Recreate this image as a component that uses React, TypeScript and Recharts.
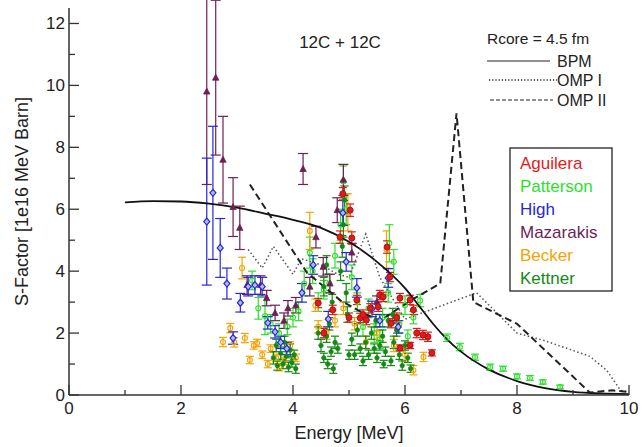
import { ComposedChart, ErrorBar, Line, Scatter, XAxis, YAxis } from "recharts";

const FONT = "'Liberation Sans', Arial, Helvetica, sans-serif";
const INK = "#222";

const xTicks = [0, 1, 2, 3, 4, 5, 6, 7, 8, 9, 10];
const yTicks = [0, 1, 2, 3, 4, 5, 6, 7, 8, 9, 10, 11, 12];

// model curves
const bpmE = [1, 1.5, 2, 2.5, 3, 3.5, 4, 4.5, 5, 5.5, 6, 6.25, 6.5, 6.75, 7, 7.5, 8, 8.5, 9, 9.5, 10];
const bpmS = [6.22, 6.26, 6.25, 6.18, 6.05, 5.86, 5.66, 5.4, 4.95, 4.3, 3.45, 2.88, 2.3, 1.8, 1.4, 0.82, 0.45, 0.22, 0.1, 0.05, 0.03];

const omp1E = [3.2, 3.45, 3.65, 4.0, 4.15, 4.5, 4.8, 5.0, 5.3, 5.55, 6.0, 7.28, 8.0, 8.5, 9.3, 9.6, 9.85, 10];
const omp1S = [4.7, 4.1, 4.8, 3.9, 4.4, 4.2, 3.9, 3.8, 5.2, 3.8, 2.45, 3.3, 2.0, 1.75, 1.25, 0.8, 0.15, 0.1];

const omp2E = [3.23, 4.25, 4.85, 5.25, 5.55, 6.1, 6.63, 6.92, 7.22, 8.0, 9.3, 9.7, 10];
const omp2S = [6.8, 3.95, 3.05, 2.65, 2.4, 3.05, 3.6, 9.1, 3.0, 2.3, 0.08, 0.15, 0.1];

// measurements
const aguileraE = [4.45, 4.71, 4.84, 4.89, 5.02, 5.05, 5.14, 5.2, 5.31, 5.38, 5.52, 5.55, 5.61, 5.68, 5.73, 5.75, 5.85, 5.91, 5.91, 6.09, 6.09, 6.15, 6.21, 6.32, 6.41, 6.48, 4.55, 5.0, 5.25];
const aguileraS = [2.97, 2.75, 5.1, 6.5, 5.97, 5.07, 3.07, 2.49, 2.42, 2.8, 2.85, 3.23, 3.17, 4.78, 3.81, 2.32, 2.5, 3.13, 1.52, 3.07, 1.6, 2.75, 2.0, 1.94, 1.88, 1.36, 2.0, 2.5, 2.6];
const aguileraErr = [0.15, 0.15, 0.2, 0.2, 0.2, 0.2, 0.15, 0.15, 0.15, 0.15, 0.15, 0.15, 0.15, 0.2, 0.15, 0.15, 0.15, 0.15, 0.1, 0.15, 0.1, 0.15, 0.15, 0.15, 0.15, 0.1, 0.15, 0.15, 0.15];

const pattersonE = [3.27, 3.38, 3.5, 3.6, 3.75, 3.9, 4.0, 4.1, 4.2, 4.3, 4.35, 4.45, 4.55, 4.65, 4.75, 4.85, 4.9, 4.95, 5.05, 5.15, 5.25, 5.35, 5.45, 5.55, 5.6, 5.7, 5.72, 5.8, 5.9, 6.0, 6.05, 6.15, 6.27, 6.75, 6.98, 7.25, 7.52, 7.75, 8.0, 8.23, 8.46, 8.77];
const pattersonS = [3.7, 2.8, 2.55, 2.3, 2.0, 2.2, 2.5, 2.7, 3.6, 4.6, 4.0, 3.0, 3.4, 3.6, 4.5, 5.5, 6.9, 6.0, 3.8, 3.0, 2.2, 2.8, 2.0, 1.8, 2.5, 3.3, 4.9, 4.3, 2.3, 2.9, 1.9, 2.5, 3.05, 1.85, 1.55, 1.22, 0.9, 0.85, 0.6, 0.55, 0.42, 0.26];
const pattersonErr = [0.3, 0.35, 0.6, 0.3, 0.3, 0.25, 0.3, 0.3, 0.4, 0.5, 0.4, 0.3, 0.3, 0.3, 0.4, 0.5, 0.5, 0.5, 0.4, 0.3, 0.3, 0.3, 0.3, 0.3, 0.3, 0.3, 0.6, 0.4, 0.3, 0.3, 0.2, 0.2, 0.2, 0.12, 0.12, 0.1, 0.1, 0.08, 0.08, 0.08, 0.07, 0.06];

const highE = [2.46, 2.57, 2.7, 2.82, 2.93, 3.06, 3.2, 3.32, 3.45, 3.55, 3.68, 3.78, 3.89, 4.16, 4.36, 4.63, 4.89, 4.95, 5.14, 5.41, 5.55, 5.7, 5.88];
const highS = [5.6, 6.53, 4.75, 3.6, 1.84, 2.98, 3.5, 3.55, 3.5, 2.33, 2.04, 1.7, 1.5, 3.3, 4.2, 2.45, 5.88, 4.3, 3.46, 2.78, 2.4, 3.78, 2.2];
const highErr = [2.05, 2.15, 0.95, 0.5, 0.2, 0.3, 0.3, 0.3, 0.3, 0.2, 0.2, 0.2, 0.2, 0.3, 0.3, 0.25, 0.4, 0.3, 0.3, 0.25, 0.2, 0.3, 0.2];

const mazarakisE = [2.46, 2.62, 2.75, 2.93, 3.05, 3.18, 3.42, 3.53, 3.68, 3.84, 3.91, 4.05, 4.18, 4.3, 4.41, 4.54, 4.66, 4.79, 4.9, 5.05, 5.5];
const mazarakisS = [9.8, 10.25, 7.6, 6.07, 5.4, 3.55, 3.55, 3.13, 2.65, 2.4, 2.8, 2.9, 7.3, 3.5, 5.1, 4.14, 3.6, 5.97, 6.95, 4.6, 3.0];
const mazarakisErr = [3.0, 2.5, 1.4, 0.95, 0.7, 0.3, 0.3, 0.25, 0.25, 0.25, 0.25, 0.25, 0.5, 0.3, 0.35, 0.3, 0.3, 0.4, 0.5, 0.3, 0.2];

const beckerE = [2.75, 2.88, 2.95, 3.09, 3.14, 3.23, 3.3, 3.36, 3.45, 3.55, 3.6, 3.7, 3.75, 3.85, 3.95, 4.05, 4.3, 4.4, 4.45, 4.6, 4.75, 4.9, 4.98, 5.1, 5.3, 5.5, 5.67, 5.8, 6.0, 6.15, 6.33];
const beckerS = [1.71, 2.16, 1.7, 4.1, 1.84, 1.13, 1.6, 1.68, 1.3, 1.0, 1.5, 1.2, 0.9, 1.1, 1.6, 1.2, 5.3, 2.9, 2.2, 2.0, 2.4, 2.8, 5.9, 2.3, 1.7, 2.0, 4.7, 1.6, 1.3, 0.8, 1.23];
const beckerErr = [0.15, 0.15, 0.15, 0.35, 0.15, 0.12, 0.12, 0.12, 0.12, 0.12, 0.12, 0.12, 0.12, 0.12, 0.12, 0.12, 0.6, 0.2, 0.2, 0.2, 0.2, 0.2, 0.6, 0.2, 0.2, 0.2, 0.6, 0.2, 0.2, 0.15, 0.15];

const kettnerE = [3.65, 3.7, 3.72, 3.78, 3.82, 3.85, 3.88, 3.92, 3.95, 3.98, 4.02, 4.05, 4.45, 4.5, 4.55, 4.6, 4.62, 4.68, 4.72, 4.75, 4.55, 4.6, 4.7, 4.85, 4.88, 4.9, 4.92, 4.95, 4.97, 5.05, 5.1, 5.15, 5.2, 5.25, 5.3, 5.35, 5.4, 5.45, 5.5, 5.6, 5.65, 5.7, 5.75, 5.8, 5.85, 5.9, 5.95, 6.0, 6.05, 6.1, 4.8, 4.65, 5.0, 5.48, 5.55, 5.62, 5.78];
const kettnerS = [1.2, 1.6, 0.95, 1.35, 1.0, 1.7, 1.25, 0.9, 1.45, 1.05, 1.3, 0.85, 2.0, 1.6, 1.2, 1.9, 1.0, 1.4, 0.85, 1.7, 3.5, 4.2, 3.0, 4.0, 4.8, 5.5, 6.3, 3.3, 2.6, 1.8, 1.3, 2.1, 1.5, 1.1, 1.7, 1.3, 2.0, 1.5, 1.2, 1.9, 1.4, 2.4, 1.1, 1.7, 2.1, 1.3, 0.95, 1.6, 1.2, 0.85, 1.5, 2.3, 1.3, 2.4, 1.6, 1.0, 2.6];
const kettnerErr = [0.2, 0.2, 0.15, 0.2, 0.15, 0.2, 0.15, 0.15, 0.2, 0.15, 0.15, 0.15, 0.2, 0.2, 0.15, 0.2, 0.15, 0.15, 0.15, 0.2, 0.3, 0.3, 0.25, 0.3, 0.35, 0.4, 0.45, 0.3, 0.25, 0.2, 0.15, 0.2, 0.15, 0.15, 0.2, 0.15, 0.2, 0.15, 0.15, 0.2, 0.15, 0.2, 0.15, 0.2, 0.2, 0.15, 0.15, 0.15, 0.15, 0.12, 0.15, 0.2, 0.15, 0.2, 0.15, 0.12, 0.2];

const curve = (e: number[], s: number[]) => e.map((x, i) => ({ x, y: s[i] }));
const points = (e: number[], s: number[], err: number[]) => e.map((x, i) => ({ x, y: s[i], err: err[i] }));

const COLORS = {
  aguilera: "#e41a1a",
  patterson: "#2de02d",
  high: "#2626d8",
  mazarakis: "#6e1f55",
  becker: "#f5a300",
  kettner: "#138a13",
};

const datasets = [
  { key: "Patterson", color: COLORS.patterson, data: points(pattersonE, pattersonS, pattersonErr), cap: 4 },
  { key: "Becker", color: COLORS.becker, data: points(beckerE, beckerS, beckerErr), cap: 4 },
  { key: "Kettner", color: COLORS.kettner, data: points(kettnerE, kettnerS, kettnerErr), cap: 4 },
  { key: "Mazarakis", color: COLORS.mazarakis, data: points(mazarakisE, mazarakisS, mazarakisErr), cap: 5 },
  { key: "High", color: COLORS.high, data: points(highE, highS, highErr), cap: 5 },
  { key: "Aguilera", color: COLORS.aguilera, data: points(aguileraE, aguileraS, aguileraErr), cap: 4 },
];

const legendNames = ["Aguilera", "Patterson", "High", "Mazarakis", "Becker", "Kettner"];
const legendColors = [COLORS.aguilera, COLORS.patterson, COLORS.high, COLORS.mazarakis, COLORS.becker, COLORS.kettner];

function marker(name: string, color: string) {
  return (p: any) => {
    const { cx, cy } = p;
    if (cx == null || cy == null) return <g />;
    if (name === "High")
      return <path d={`M${cx},${cy - 3.5}L${cx + 3},${cy}L${cx},${cy + 3.5}L${cx - 3},${cy}Z`} fill="#b8b8f0" stroke={color} strokeWidth={1.2} />;
    if (name === "Mazarakis")
      return <path d={`M${cx},${cy - 3.5}L${cx + 3.2},${cy + 2.5}L${cx - 3.2},${cy + 2.5}Z`} fill={color} stroke={color} strokeWidth={0.8} />;
    if (name === "Aguilera") return <circle cx={cx} cy={cy} r={3} fill={color} stroke="#b01010" strokeWidth={1} />;
    if (name === "Kettner") return <circle cx={cx} cy={cy} r={2.2} fill={color} stroke={color} strokeWidth={0.8} />;
    return <circle cx={cx} cy={cy} r={2.5} fill="none" stroke={color} strokeWidth={1.1} />;
  };
}

const BottomTick = (props: any) => {
  const { x, y, payload } = props;
  const major = payload.value % 2 === 0;
  return (
    <g>
      <line x1={x} y1={y} x2={x} y2={y - (major ? 10 : 5)} stroke="#333" strokeWidth={1.3} />
      {major && (
        <text x={x} y={y + 19} textAnchor="middle" fontSize={17} fontFamily={FONT} fill={INK}>
          {payload.value}
        </text>
      )}
    </g>
  );
};

const LeftTick = (props: any) => {
  const { x, y, payload } = props;
  const major = payload.value % 2 === 0;
  return (
    <g>
      <line x1={x} y1={y} x2={x + (major ? 10 : 6)} y2={y} stroke="#333" strokeWidth={1.3} />
      {major && (
        <text x={x - 4} y={y + 6} textAnchor="end" fontSize={17} fontFamily={FONT} fill={INK}>
          {payload.value}
        </text>
      )}
    </g>
  );
};

const TopTick = (props: any) => {
  const { x, y } = props;
  return <line x1={x} y1={y} x2={x} y2={y + 6} stroke="#333" strokeWidth={1.3} />;
};

const RightTick = (props: any) => {
  const { x, y } = props;
  return <line x1={x} y1={y} x2={x - 9} y2={y} stroke="#333" strokeWidth={1.3} />;
};

export default function App() {
  return (
    <div style={{ position: "absolute", left: 0, top: 0, width: 643, height: 447, background: "#fff" }}>
      <ComposedChart width={643} height={447} margin={{ top: 8, right: 14, bottom: 0, left: 0 }}>
        <XAxis
          xAxisId="b"
          dataKey="x"
          type="number"
          domain={[0, 10]}
          ticks={xTicks}
          allowDataOverflow
          height={52}
          tickSize={0}
          tickMargin={0}
          tick={<BottomTick />}
          axisLine={{ stroke: "#333", strokeWidth: 1.5 }}
          label={{ value: "Energy [MeV]", position: "insideBottom", offset: 8, fontSize: 18, fontFamily: FONT, fill: INK }}
        />
        <XAxis
          xAxisId="t"
          orientation="top"
          dataKey="x"
          type="number"
          domain={[0, 10]}
          ticks={xTicks}
          allowDataOverflow
          height={0}
          tickSize={0}
          tickMargin={0}
          tick={<TopTick />}
          axisLine={{ stroke: "#333", strokeWidth: 1.5 }}
        />
        <YAxis
          yAxisId="l"
          dataKey="y"
          type="number"
          domain={[0, 12.5]}
          ticks={yTicks}
          allowDataOverflow
          width={69}
          tickSize={0}
          tickMargin={0}
          tick={<LeftTick />}
          axisLine={{ stroke: "#333", strokeWidth: 1.5 }}
          label={{
            value: "S-Factor [1e16 MeV Barn]",
            angle: -90,
            position: "insideLeft",
            offset: 22,
            fontSize: 18,
            fontFamily: FONT,
            fill: INK,
            style: { textAnchor: "middle" },
          }}
        />
        <YAxis
          yAxisId="r"
          orientation="right"
          dataKey="y"
          type="number"
          domain={[0, 12.5]}
          ticks={yTicks}
          allowDataOverflow
          width={0}
          tickSize={0}
          tickMargin={0}
          tick={<RightTick />}
          axisLine={{ stroke: "#333", strokeWidth: 1.5 }}
        />

        {datasets.map((d) => (
          <Scatter
            key={d.key}
            name={d.key}
            xAxisId="b"
            yAxisId="l"
            data={d.data}
            fill={d.color}
            shape={marker(d.key, d.color)}
            isAnimationActive={false}
          >
            <ErrorBar dataKey="err" direction="y" width={d.cap} stroke={d.color} strokeWidth={1.2} />
          </Scatter>
        ))}

        <Line xAxisId="b" yAxisId="l" data={curve(bpmE, bpmS)} dataKey="y" type="monotone" stroke="#111" strokeWidth={1.8} dot={false} isAnimationActive={false} />
        <Line xAxisId="b" yAxisId="l" data={curve(omp1E, omp1S)} dataKey="y" type="linear" stroke="#555" strokeWidth={1.5} strokeDasharray="1.5 2.5" dot={false} isAnimationActive={false} />
        <Line xAxisId="b" yAxisId="l" data={curve(omp2E, omp2S)} dataKey="y" type="linear" stroke="#222" strokeWidth={2} strokeDasharray="7 4" dot={false} isAnimationActive={false} />
      </ComposedChart>

      <svg width={643} height={447} style={{ position: "absolute", left: 0, top: 0, pointerEvents: "none" }} fontFamily={FONT}>
        <text x={340} y={48} textAnchor="middle" fontSize={17} fill={INK}>12C + 12C</text>
        <text x={487} y={44} fontSize={15.5} fill={INK}>Rcore = 4.5 fm</text>
        <line x1={487} y1={61} x2={550} y2={61} stroke="#222" strokeWidth={1} />
        <text x={557} y={67} fontSize={16} fill={INK}>BPM</text>
        <line x1={489} y1={80} x2={557} y2={80} stroke="#222" strokeWidth={1.3} strokeDasharray="1.2 2" />
        <text x={557} y={86} fontSize={16} fill={INK}>OMP I</text>
        <line x1={490} y1={100} x2={553} y2={100} stroke="#222" strokeWidth={1.1} strokeDasharray="4 2" />
        <text x={557} y={106} fontSize={16} fill={INK}>OMP II</text>

        <rect x={510} y={148} width={102} height={143} fill="#fff" stroke="#222" strokeWidth={1.3} />
        {legendNames.map((n, i) => (
          <text key={n} x={520} y={169 + i * 23} fontSize={17} fill={legendColors[i]}>
            {n}
          </text>
        ))}
      </svg>
    </div>
  );
}
